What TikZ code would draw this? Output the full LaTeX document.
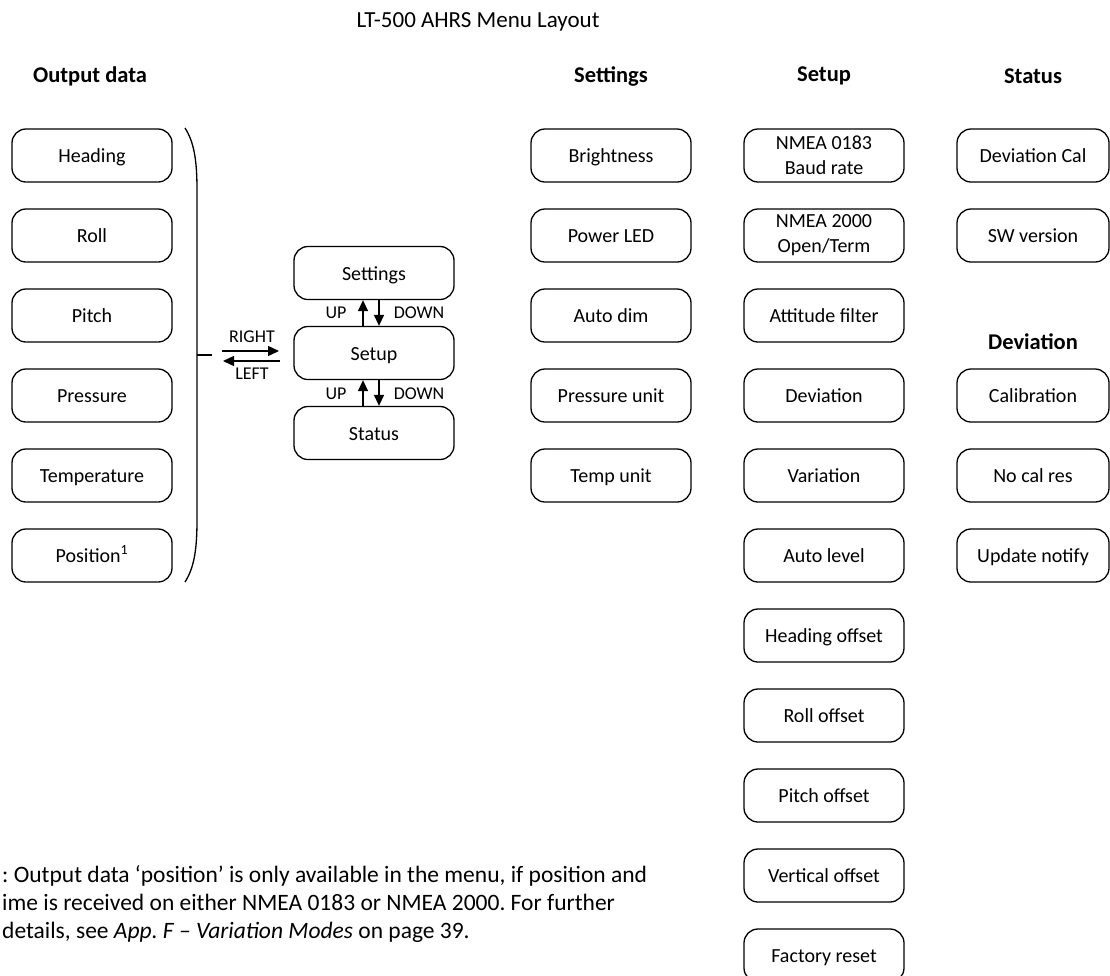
\documentclass[tikz,border=0pt]{standalone}
\usepackage{fontspec}
\setmainfont{Carlito}
\usetikzlibrary{arrows.meta}

\begin{document}
\begin{tikzpicture}[x=1pt,y=-1pt,
  menubox/.style={draw,line width=1.3pt,rounded corners=14pt,minimum width=160pt,minimum height=53pt,align=center,inner sep=2pt,font=\fontsize{20}{25}\selectfont,text height=17pt,text depth=3pt},
  twoline/.style={menubox,text height=,text depth=},
  hdr/.style={font=\fontsize{22.5}{26}\selectfont\bfseries},
  lbl/.style={font=\fontsize{18}{20}\selectfont,inner sep=0pt},
  tri/.style={-{Triangle[length=11pt,width=10pt]},line width=1.4pt}]
\useasboundingbox (0,0) rectangle (1110,975);

\node[font=\fontsize{23}{26}\selectfont] (title) at (478,22) {LT-500 AHRS Menu Layout};

\node[hdr] (hOut) at (90,76) {Output data};
\node[hdr] (hSettings) at (611,76) {Settings};
\node[hdr] (hSetup) at (824,76) {Setup};
\node[hdr] (hStatus) at (1033,76) {Status};

\node[menubox] (heading) at (92,155.5) {Heading};
\node[menubox] (roll) at (92,235.5) {Roll};
\node[menubox] (pitch) at (92,315.5) {Pitch};
\node[menubox] (pressure) at (92,395.5) {Pressure};
\node[menubox] (temperature) at (92,475.5) {Temperature};
\node[menubox] (position) at (92,555.5) {Position\textsuperscript{1}};

\draw[line width=1.3pt] (185,128) .. controls (194,142) and (197,160) .. (197,190) -- (197,520) .. controls (197,550) and (194,568) .. (185,582);
\draw[line width=1.3pt] (197,355) -- (212,355);

\coordinate (rightA) at (222,351);
\coordinate (rightB) at (279,351);
\coordinate (leftA) at (280,361);
\coordinate (leftB) at (223,361);
\draw[tri] (rightA) -- (rightB);
\draw[tri] (leftA) -- (leftB);
\node[lbl] (rightlbl) at (252,337) {RIGHT};
\node[lbl] (leftlbl) at (252,374) {LEFT};

\node[menubox] (mSettings) at (374,273) {Settings};
\node[menubox] (mSetup) at (374,353) {Setup};
\node[menubox] (mStatus) at (374,433) {Status};

\draw[tri] ([xshift=-11pt]mSetup.north) -- ([xshift=-11pt]mSettings.south);
\draw[tri] ([xshift=5pt]mSettings.south) -- ([xshift=5pt]mSetup.north);
\draw[tri] ([xshift=-11pt]mStatus.north) -- ([xshift=-11pt]mSetup.south);
\draw[tri] ([xshift=5pt]mSetup.south) -- ([xshift=5pt]mStatus.north);
\node[lbl] (up1) at (336,313) {UP};
\node[lbl] (down1) at (419,313) {DOWN};
\node[lbl] (up2) at (336,394) {UP};
\node[lbl] (down2) at (419,394) {DOWN};

\node[menubox] (brightness) at (611,155.5) {Brightness};
\node[menubox] (powerled) at (611,235.5) {Power LED};
\node[menubox] (autodim) at (611,315.5) {Auto dim};
\node[menubox] (pressunit) at (611,395.5) {Pressure unit};
\node[menubox] (tempunit) at (611,475.5) {Temp unit};

\node[twoline] (baud) at (824,155.5) {NMEA 0183\\Baud rate};
\node[twoline] (term) at (824,235.5) {NMEA 2000\\Open/Term};
\node[menubox] (attfilter) at (824,315.5) {Attitude filter};
\node[menubox] (deviation) at (824,395.5) {Deviation};
\node[menubox] (variation) at (824,475.5) {Variation};
\node[menubox] (autolevel) at (824,555.5) {Auto level};
\node[menubox] (hoffset) at (824,635.5) {Heading offset};
\node[menubox] (roffset) at (824,715.5) {Roll offset};
\node[menubox] (poffset) at (824,795.5) {Pitch offset};
\node[menubox] (voffset) at (824,875.5) {Vertical offset};
\node[menubox] (freset) at (824,955.5) {Factory reset};

\node[menubox,minimum width=152pt] (devcal) at (1033,155.5) {Deviation Cal};
\node[menubox,minimum width=152pt] (swver) at (1033,235.5) {SW version};
\node[hdr] (hDeviation) at (1033,342) {Deviation};
\node[menubox,minimum width=152pt] (calib) at (1033,395.5) {Calibration};
\node[menubox,minimum width=152pt] (nocal) at (1033,475.5) {No cal res};
\node[menubox,minimum width=152pt] (update) at (1033,555.5) {Update notify};

\node[anchor=north west,align=left,inner sep=0pt,font=\fontsize{23.5}{28}\selectfont\frenchspacing] (note) at (2,865) {: Output data ‘position’ is only available in the menu, if position and\\ime is received on either NMEA 0183 or NMEA 2000. For further\\details, see \textit{App. F – Variation Modes} on page 39.};

\end{tikzpicture}
\end{document}
